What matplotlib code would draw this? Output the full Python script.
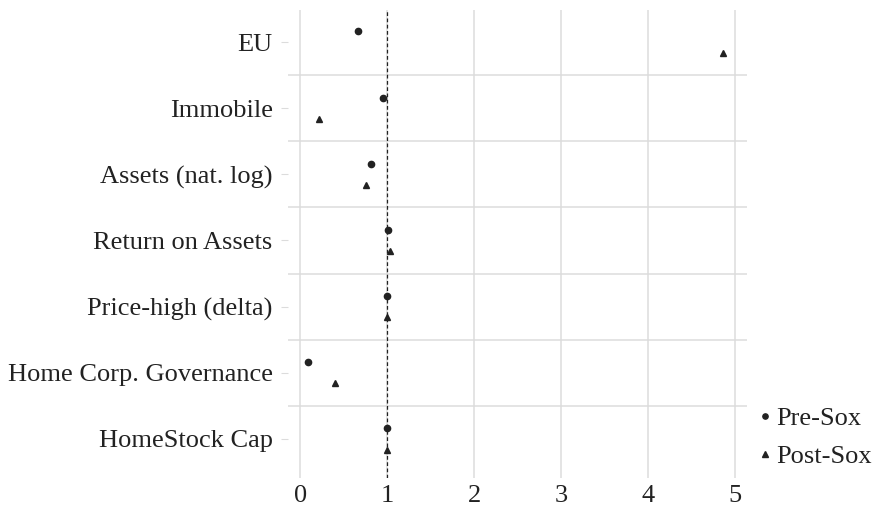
import numpy as np
import matplotlib

matplotlib.use("Agg")
import matplotlib.pyplot as plt  # noqa: E402
from matplotlib.lines import Line2D  # noqa: E402

plt.rcParams["font.family"] = ["Liberation Serif", "DejaVu Serif"]

# categories listed top to bottom
categories = [
    "EU",
    "Immobile",
    "Assets (nat. log)",
    "Return on Assets",
    "Price-high (delta)",
    "Home Corp. Governance",
    "HomeStock Cap",
]
pre_sox = [0.66, 0.95, 0.82, 1.01, 1.00, 0.09, 1.00]
post_sox = [4.86, 0.22, 0.76, 1.03, 1.00, 0.40, 1.00]
x_ticks = [0, 1, 2, 3, 4, 5]

GRID = "#dcdcdc"
INK = "#222222"

fig = plt.figure(figsize=(8.76, 5.09), dpi=100)
ax = fig.add_axes([288 / 876, 1 - 478 / 509, (747 - 288) / 876, (478 - 10) / 509])

n = len(categories)
ypos = np.arange(n)[::-1]  # EU at top
offset = 0.16

ax.set_xlim(-0.14, 5.14)
ax.set_ylim(-0.59, n - 1 + 0.484)

# grid: vertical at ticks, horizontal between categories
for xv in x_ticks:
    ax.axvline(xv, color=GRID, lw=1.1, zorder=0)
for yb in np.arange(n - 1) + 0.5:
    ax.axhline(yb, color=GRID, lw=1.1, zorder=0)

ax.axvline(1, color=INK, lw=0.9, ls=(0, (3, 2)), zorder=1)

ax.plot(pre_sox, ypos + offset, "o", color=INK, ms=4.5, ls="none", zorder=3, clip_on=False)
ax.plot(post_sox, ypos - offset, "^", color=INK, ms=4.8, ls="none", zorder=3, clip_on=False)

ax.set_yticks(ypos)
ax.set_yticklabels(categories)
ax.set_xticks(x_ticks)
ax.tick_params(axis="y", length=5, color=GRID, labelsize=19, labelcolor=INK, pad=6)
ax.tick_params(axis="x", length=0, labelsize=19, labelcolor=INK, pad=5)
for s in ax.spines.values():
    s.set_visible(False)

handles = [
    Line2D([], [], marker="o", color=INK, ls="none", ms=3.8),
    Line2D([], [], marker="^", color=INK, ls="none", ms=4.2),
]
fig.legend(handles, ["Pre-Sox", "Post-Sox"], loc="lower left",
           bbox_to_anchor=(760 / 876, 1 - 468 / 509), frameon=False,
           fontsize=19, handlelength=0.35, handletextpad=0.25, labelspacing=0.55,
           borderpad=0, borderaxespad=0, labelcolor=INK)

fig.savefig("out.png", dpi=100)
